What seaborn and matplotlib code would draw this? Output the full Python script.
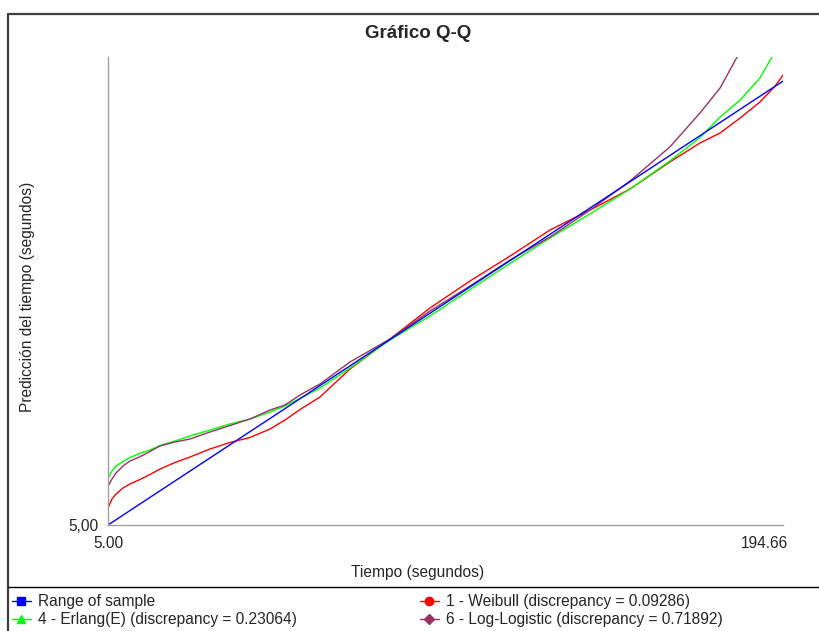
"""Q-Q plot of fitted distributions against the sample range."""
import numpy as np
import pandas as pd
import seaborn as sns
import matplotlib.pyplot as plt
from matplotlib.lines import Line2D

# sample quantiles (seconds) shared by the fitted curves
X_GRID = [5.00, 6.15, 7.31, 9.33, 11.35, 14.24, 17.12, 20.01, 24.34, 28.67, 34.45,
          40.22, 46.00, 51.77, 56.10, 60.43, 66.20, 74.86, 86.41, 97.96, 109.5,
          121.1, 132.6, 144.2, 155.7, 167.2, 175.9, 181.7, 187.5, 193.2, 197.6, 199.9]

RANGE_X = [5.00, 199.86]
RANGE_Y = [5.00, 199.86]

WEIBULL_X = X_GRID
WEIBULL_Y = [12.46, 16.41, 18.61, 21.24, 23.00, 24.97, 27.17, 29.58, 32.44, 34.85, 38.36,
             41.22, 43.41, 47.14, 51.09, 55.70, 61.19, 73.48, 86.65, 100.26, 112.11,
             123.09, 134.50, 143.28, 152.50, 164.35, 172.69, 177.08, 183.67, 190.69,
             197.72, 202.54]

ERLANG_X = X_GRID[:30] + [196.7]
ERLANG_Y = [25.63, 28.71, 30.90, 32.88, 34.63, 36.48, 37.92, 39.90, 41.87, 44.07, 46.70,
            49.34, 51.53, 54.61, 57.24, 60.62, 65.14, 73.92, 86.21, 96.75, 108.38,
            119.88, 130.99, 141.66, 152.50, 164.79, 175.10, 184.10, 191.57, 201.23, 210.44]

LOGLOG_X = X_GRID[:28] + [186.6]
LOGLOG_Y = [22.12, 25.19, 27.83, 30.90, 33.09, 34.98, 37.27, 39.68, 41.44, 42.75, 45.83,
            48.68, 51.53, 55.48, 57.68, 62.07, 66.90, 76.55, 86.65, 98.94, 109.92,
            121.33, 131.43, 143.28, 156.01, 170.94, 185.86, 196.84, 210.44]

LABELS = ["Range of sample",
          "1 - Weibull (discrepancy = 0.09286)",
          "4 - Erlang(E) (discrepancy = 0.23064)",
          "6 - Log-Logistic (discrepancy = 0.71892)"]
COLORS = ["#0000ff", "#ff0000", "#00ff00", "#993366"]
MARKERS = ["s", "o", "^", "D"]

X_LIM = (5.00, 199.86)
Y_LIM = (5.00, 210.44)
X_TICKS = [5.00, 194.66]
X_TICKLABELS = ["5.00", "194.66"]
Y_TICKS = [5.00]
Y_TICKLABELS = ["5,00"]


def build_frame() -> pd.DataFrame:
    parts = []
    for label, xs, ys in zip(LABELS,
                             [RANGE_X, WEIBULL_X, ERLANG_X, LOGLOG_X],
                             [RANGE_Y, WEIBULL_Y, ERLANG_Y, LOGLOG_Y]):
        parts.append(pd.DataFrame({"x": xs, "y": ys, "series": label}))
    return pd.concat(parts, ignore_index=True)


def main() -> None:
    sns.set_style("white")
    plt.rcParams["font.family"] = ["Liberation Sans", "DejaVu Sans"]
    W, H = 820, 631
    fig = plt.figure(figsize=(W / 100, H / 100), dpi=100)
    ax = fig.add_axes([108 / W, 1 - 525 / H, 675 / W, 468 / H])

    df = build_frame()
    # draw the fitted curves first, the sample range on top
    order = LABELS[1:] + LABELS[:1]
    for label in order:
        sub = df[df["series"] == label]
        sns.lineplot(data=sub, x="x", y="y", color=COLORS[LABELS.index(label)],
                     sort=False, estimator=None, lw=1.0, ax=ax)

    ax.set_xlim(*X_LIM)
    ax.set_ylim(*Y_LIM)
    ax.set_xticks(X_TICKS)
    ax.set_xticklabels(X_TICKLABELS)
    ax.set_yticks(Y_TICKS)
    ax.set_yticklabels(Y_TICKLABELS)
    ax.tick_params(axis="x", direction="in", length=6, color="#b0b0b0", width=1,
                   labelsize=11.2, pad=8)
    ax.tick_params(axis="y", length=0, labelsize=11.2, pad=7)
    ax.set_xlabel("")
    ax.set_ylabel("")
    for side in ["top", "right"]:
        ax.spines[side].set_visible(False)
    for side in ["left", "bottom"]:
        ax.spines[side].set_color("#a0a0a0")
        ax.spines[side].set_linewidth(1.0)

    fig.text(418 / W, 1 - 33 / H, "Gráfico Q-Q", ha="center", va="center",
             fontsize=13.5, fontweight="bold")
    fig.text(418 / W, 1 - 572 / H, "Tiempo (segundos)", ha="center", va="center",
             fontsize=11.2)
    fig.text(28 / W, 1 - 297 / H, "Predicción del tiempo (segundos)", ha="center",
             va="center", rotation=90, fontsize=11.2)

    # outer frame and legend separator
    fig.add_artist(Line2D([8 / W, 1], [1 - 14 / H] * 2, color="#404040", lw=1.6))
    fig.add_artist(Line2D([8 / W] * 2, [0, 1 - 14 / H], color="#404040", lw=1.6))
    fig.add_artist(Line2D([8 / W, 1], [1 - 587 / H] * 2, color="#000000", lw=1.0))

    handles = [Line2D([], [], color=c, marker=m, markersize=6 if m != "D" else 5, lw=1.0)
               for c, m in zip(COLORS, MARKERS)]
    common = dict(loc="upper left", frameon=False, fontsize=11.2, handlelength=1.2,
                  handletextpad=0.5, borderpad=0, borderaxespad=0, labelspacing=0.22)
    fig.legend([handles[0], handles[2]], [LABELS[0], LABELS[2]],
               bbox_to_anchor=(12 / W, 1 - 594 / H), **common)
    fig.legend([handles[1], handles[3]], [LABELS[1], LABELS[3]],
               bbox_to_anchor=(420 / W, 1 - 594 / H), **common)

    fig.savefig("out.png", dpi=100)
    plt.close(fig)


if __name__ == "__main__":
    main()
